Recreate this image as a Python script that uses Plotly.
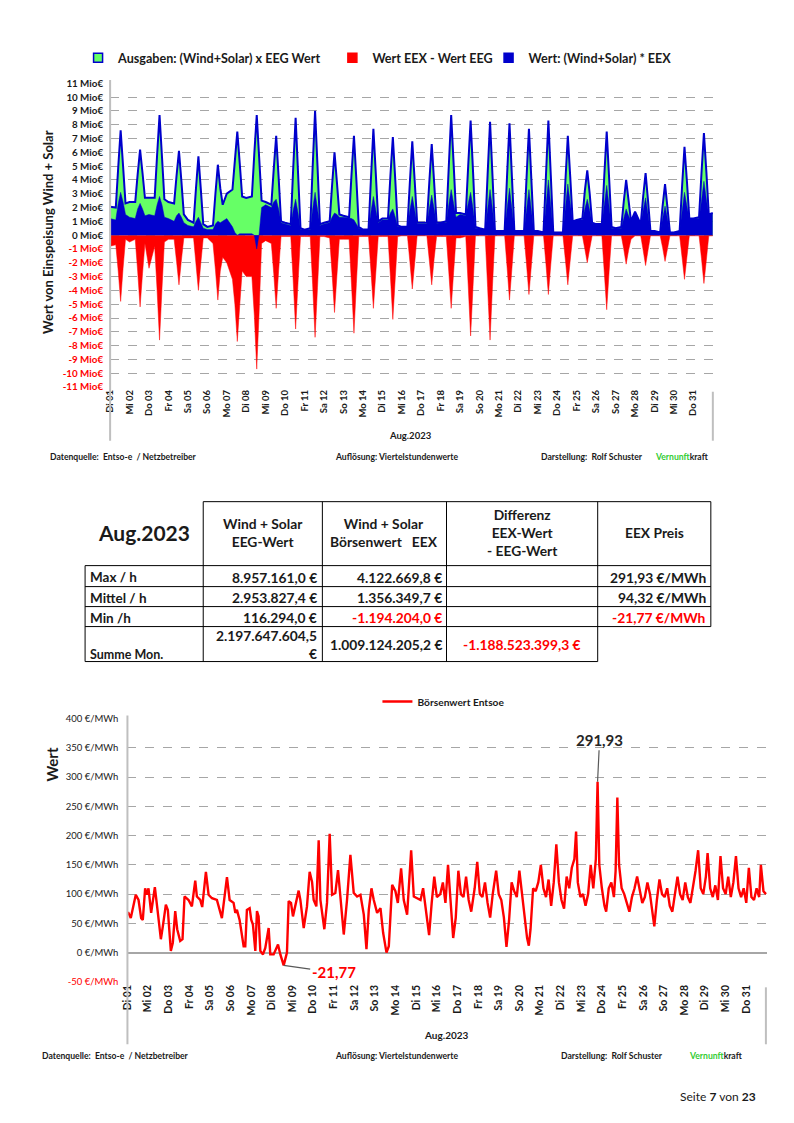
import plotly.graph_objects as go

W, H = 794, 1123
# page-to-figure pixel mapping (compensates the page offset/scale of the screenshot)
def F(p): return (p - 15) / 0.99
def X(p): return F(p) / W
def Y(p): return 1 - F(p) / H

FONT = "Lato"
DARK = "#1a1a1a"
RED = "#ff0000"

day_labels = ["Di 01", "Mi 02", "Do 03", "Fr 04", "Sa 05", "So 06", "Mo 07", "Di 08", "Mi 09", "Do 10",
              "Fr 11", "Sa 12", "So 13", "Mo 14", "Di 15", "Mi 16", "Do 17", "Fr 18", "Sa 19", "So 20",
              "Mo 21", "Di 22", "Mi 23", "Do 24", "Fr 25", "Sa 26", "So 27", "Mo 28", "Di 29", "Mi 30", "Do 31"]
sample_hours = [0, 7, 10, 13, 16, 19]   # sampling hours within each day

# Top chart values (Mio EUR), one row per day at 0h, 7h, 10h, 13h, 16h, 19h
eeg_value = [
    2.05, 2.0, 4.9, 7.6, 5.0, 2.3,
    2.4, 2.4, 4.4, 6.2, 4.5, 2.7,
    2.7, 2.7, 5.8, 8.7, 5.7, 2.6,
    2.4, 2.3, 4.3, 6.1, 3.9, 1.5,
    1.1, 0.9, 3.4, 5.7, 3.3, 0.8,
    0.6, 0.7, 3.0, 5.1, 3.4, 2.2,
    3.0, 3.3, 5.4, 7.5, 5.2, 2.8,
    2.7, 2.8, 5.9, 8.7, 5.6, 2.5,
    2.4, 2.2, 4.8, 7.2, 4.2, 1.0,
    0.9, 0.8, 4.8, 8.5, 4.5, 0.5,
    0.4, 0.5, 4.9, 9.0, 5.0, 0.8,
    0.9, 1.0, 3.6, 6.0, 3.8, 1.5,
    1.4, 1.3, 4.4, 7.2, 4.0, 0.6,
    0.4, 0.4, 4.1, 7.7, 4.4, 1.0,
    1.2, 1.2, 4.3, 7.1, 4.0, 0.7,
    0.6, 0.6, 3.8, 6.8, 3.9, 0.9,
    0.9, 0.9, 3.8, 6.6, 3.8, 0.9,
    0.9, 1.0, 4.9, 8.7, 5.2, 1.6,
    1.6, 1.5, 5.0, 8.3, 4.6, 0.6,
    0.5, 0.4, 4.4, 8.2, 4.3, 0.3,
    0.3, 0.3, 4.3, 8.1, 4.2, 0.3,
    0.3, 0.3, 4.1, 7.7, 4.0, 0.3,
    0.3, 0.2, 4.3, 8.3, 4.3, 0.2,
    0.2, 0.2, 3.9, 7.2, 4.2, 1.0,
    1.1, 1.2, 3.2, 4.7, 3.0, 0.9,
    0.8, 0.8, 4.3, 7.5, 4.1, 0.6,
    0.5, 0.6, 2.4, 4.0, 2.5, 1.0,
    1.7, 0.8, 2.8, 4.5, 2.5, 0.3,
    0.3, 0.2, 2.1, 3.7, 2.0, 0.2,
    0.2, 0.3, 3.5, 6.4, 3.9, 1.2,
    1.2, 1.3, 4.5, 7.4, 4.6, 1.5,
    1.6]
eex_value = [
    1.2, 1.1, 2.3, 3.1, 2.4, 1.5,
    1.3, 1.2, 1.9, 2.3, 1.9, 1.4,
    1.5, 1.4, 2.2, 2.8, 2.2, 1.3,
    1.2, 1.0, 1.4, 1.6, 1.3, 0.9,
    0.7, 0.6, 1.0, 1.3, 0.9, 0.5,
    0.4, 0.4, 0.8, 1.0, 0.9, 1.0,
    1.2, 0.6, 0.2, 0.0, 0.1, 0.1,
    0.1, 0.1, 0.0, -1.0, 0.1, 2.0,
    2.2, 2.0, 2.4, 2.6, 1.9, 0.9,
    0.8, 0.7, 1.8, 2.6, 1.6, 0.4,
    0.4, 0.4, 1.9, 3.1, 1.9, 0.7,
    0.8, 0.9, 1.3, 1.6, 1.5, 1.3,
    1.3, 1.2, 1.2, 1.1, 0.8, 0.5,
    0.4, 0.4, 1.7, 2.8, 1.8, 0.9,
    1.1, 1.1, 1.6, 1.9, 1.3, 0.6,
    0.6, 0.6, 1.8, 2.8, 1.8, 0.8,
    0.8, 0.8, 1.9, 2.9, 1.9, 0.8,
    0.9, 0.9, 2.2, 3.3, 2.3, 1.3,
    1.5, 1.4, 2.3, 3.1, 1.9, 0.5,
    0.5, 0.4, 1.9, 3.3, 1.9, 0.3,
    0.3, 0.3, 1.9, 3.4, 1.9, 0.3,
    0.3, 0.3, 1.8, 3.3, 1.8, 0.3,
    0.3, 0.2, 2.1, 4.0, 2.1, 0.2,
    0.2, 0.2, 2.0, 3.7, 2.3, 1.0,
    1.1, 1.1, 1.9, 2.6, 1.8, 0.8,
    0.8, 0.8, 2.2, 3.6, 2.1, 0.5,
    0.5, 0.5, 1.2, 1.9, 1.4, 1.0,
    1.6, 0.8, 1.8, 2.7, 1.5, 0.3,
    0.3, 0.2, 1.2, 2.1, 1.2, 0.2,
    0.2, 0.3, 1.7, 3.1, 2.1, 1.2,
    1.2, 1.2, 2.5, 3.9, 2.6, 1.5,
    1.6]
diff_value = [
    -0.8, -0.7, -2.6, -4.8, -2.4, -0.3,
    -0.5, -0.3, -2.6, -5.2, -2.8, -0.6,
    -2.4, -0.8, -4.0, -7.6, -3.9, -0.5,
    -0.3, -0.3, -1.9, -3.6, -1.8, -0.2,
    -0.2, -0.2, -2.1, -4.0, -2.0, -0.2,
    -0.2, -0.6, -2.5, -4.7, -2.6, -1.6,
    -2.0, -3.2, -5.0, -7.7, -5.1, -2.6,
    -3.0, -3.0, -5.8, -9.7, -5.5, -0.6,
    -0.4, -0.6, -2.8, -5.3, -2.6, -0.1,
    -0.1, -0.1, -3.3, -6.8, -3.4, -0.1,
    -0.1, -0.1, -3.6, -7.4, -3.8, -0.1,
    -0.1, -0.2, -2.8, -5.6, -2.9, -0.3,
    -0.3, -0.3, -3.6, -7.1, -3.5, -0.1,
    -0.1, -0.1, -2.6, -5.3, -2.7, -0.1,
    -0.1, -0.1, -3.0, -6.1, -3.1, -0.1,
    -0.05, -0.05, -1.9, -3.9, -2.0, -0.05,
    -0.05, -0.05, -1.8, -3.6, -1.7, -0.1,
    -0.1, -0.1, -2.6, -5.3, -2.7, -0.2,
    -0.2, -0.1, -3.6, -7.3, -3.7, -0.05,
    -0.05, -0.05, -3.8, -7.6, -3.7, -0.05,
    -0.05, -0.05, -2.3, -4.7, -2.4, -0.05,
    -0.05, -0.05, -2.1, -4.3, -2.2, -0.05,
    -0.05, -0.05, -2.1, -4.3, -2.1, -0.05,
    -0.05, -0.05, -1.8, -3.6, -1.8, -0.05,
    -0.05, -0.05, -1.0, -2.0, -1.0, -0.05,
    -0.05, -0.05, -2.7, -5.4, -2.6, -0.05,
    -0.05, -0.05, -1.0, -2.1, -1.1, -0.3,
    -0.05, -0.05, -1.1, -2.2, -1.1, -0.05,
    -0.05, -0.05, -0.9, -1.9, -1.0, -0.05,
    -0.05, -0.05, -1.6, -3.2, -1.6, -0.05,
    -0.05, -0.05, -1.7, -3.5, -1.8, -0.05,
    -0.05]

# Bottom chart: EEX price (EUR/MWh) at hours since 01.08. 00:00
price_hours = [0, 1.2, 3.9, 7.8, 9.7, 12.9, 16.0, 17.9, 20.6, 22.6, 24.5, 27.6, 31.9, 35.0, 38.9, 41.2, 44.7, 47.0,
               50.5, 52.8, 55.6, 57.9, 61.4, 64.1, 66.4, 71.1, 75.0, 78.9, 80.8, 84.7, 87.0, 91.3, 94.4, 98.3,
               104.1, 109.9, 115.8, 118.9, 123.5, 125.5, 127.4, 130.5, 133.2, 135.2, 137.1, 139.0, 142.2, 144.1,
               146.0, 148.8, 150.7, 152.6, 154.6, 157.7, 160.4, 164.3, 166.2, 170.1, 175.2, 177.9, 181.8, 185.6,
               187.6, 190.3, 192.6, 195.3, 199.2, 201.2, 205.1, 208.9, 212.0, 214.8, 216.7, 219.8, 222.5, 224.5,
               226.4, 229.1, 232.2, 235.3, 238.1, 241.9, 245.0, 247.8, 251.7, 255.5, 259.4, 263.3, 267.2, 271.1,
               275.0, 278.1, 280.8, 283.9, 286.6, 290.5, 294.4, 297.5, 301.4, 304.1, 308.0, 311.8, 314.6, 318.4,
               321.5, 325.4, 330.1, 333.2, 341, 344, 347, 351, 354, 357, 360, 364, 367, 370, 373, 376, 379, 382,
               385, 388, 391, 394, 397, 400, 404, 407, 410, 413, 416, 419, 422, 425, 429, 432, 435, 438, 441, 444,
               447, 450, 453, 456, 459, 462, 465, 467, 469, 472, 475, 478, 481, 484, 487, 490, 493, 496, 499, 502,
               505, 508, 511, 514, 517, 520, 522, 524, 527, 530, 533, 536, 539, 542, 545, 547, 549, 552, 555, 557,
               560, 563, 566, 568, 570, 572, 575, 578, 581, 584, 587, 590, 593, 596, 599, 602, 605, 608, 611, 613,
               616, 619, 622, 625, 628, 631, 634, 637, 640, 643, 646, 649, 652, 655, 658, 661, 664, 667, 670, 673,
               675, 678, 681, 684, 687, 690, 693, 696, 699, 702, 705, 708, 711, 714, 717, 720, 723, 726, 729, 732,
               735, 737, 740, 743]
price_values = [68, 68, 59, 90, 99, 90, 59, 56, 110, 99, 110, 68, 112, 73, 23, 45, 82, 73,
                3, 17, 71, 40, 20, 23, 96, 90, 79, 123, 96, 90, 78, 138, 99, 93,
                90, 59, 129, 90, 85, 68, 73, 56, 34, 11, 11, 73, 76, 56,
                48, 3, 71, 62, 3, -3, 8, 42, -3, -3, 14, -3, -21.77, 0,
                88, 85, 62, 79, 106, 90, 42, 79, 138, 121, 90, 79, 192, 90,
                68, 40, 85, 203, 99, 102, 141, 99, 31, 90, 167, 102, 96, 99,
                65, 6, 73, 110, 90, 68, 76, 34, 0, 11, 116, 105, 85, 144,
                90, 65, 175, 96, 90, 110, 75, 30, 85, 130, 95, 100, 120, 85, 150, 95, 25, 60,
                140, 100, 95, 130, 90, 70, 110, 155, 100, 95, 120, 85, 60, 100, 140, 100, 90, 60, 10, 55,
                120, 105, 95, 140, 100, 60, 25, 12, 40, 110, 105, 120, 150, 110, 95, 125, 80, 120, 185, 120,
                90, 75, 130, 110, 145, 160, 207, 120, 95, 100, 80, 100, 150, 110, 160, 291.93, 150, 110, 80, 70,
                110, 120, 95, 140, 265, 150, 110, 100, 85, 70, 95, 110, 130, 110, 85, 95, 120, 100, 70, 45,
                90, 125, 100, 95, 110, 80, 70, 105, 130, 100, 90, 120, 95, 85, 110, 140, 175, 110, 100, 130,
                170, 110, 95, 115, 90, 165, 110, 100, 130, 95, 120, 165, 110, 95, 110, 85, 145, 95, 90, 110,
                95, 150, 105, 100]

top_ticks = list(range(-11, 12))
price_ticks = list(range(-50, 401, 50))

# Table content
table_headers = ["Wind + Solar<br>EEG-Wert", "Wind + Solar<br>Börsenwert   EEX",
                 "Differenz<br>EEX-Wert<br>- EEG-Wert", "EEX Preis"]
table_rows = ["Max / h", "Mittel / h", "Min /h", "Summe Mon."]
col_eeg = ["8.957.161,0 €", "2.953.827,4 €", "116.294,0 €", "2.197.647.604,5<br>€"]
col_eex = ["4.122.669,8 €", "1.356.349,7 €", "-1.194.204,0 €", "1.009.124.205,2 €"]
col_diff = ["", "", "", "-1.188.523.399,3 €"]
col_price = ["291,93 €/MWh", "94,32 €/MWh", "-21,77 €/MWh", ""]

# ------------------------------------------------------------------
x_top = [24 * d + h for d in range(31) for h in sample_hours] + [744]
day_starts = [24 * d for d in range(31)]

fig = go.Figure()

fig.add_trace(go.Scatter(x=x_top, y=eeg_value, mode="lines", fill="tozeroy",
                         fillcolor="#66ff66", line=dict(color="#0000cc", width=2),
                         showlegend=False, xaxis="x", yaxis="y"))
fig.add_trace(go.Scatter(x=x_top, y=diff_value, mode="lines", fill="tozeroy",
                         fillcolor=RED, line=dict(color=RED, width=0.5),
                         showlegend=False, xaxis="x", yaxis="y"))
fig.add_trace(go.Scatter(x=x_top, y=eex_value, mode="lines", fill="tozeroy",
                         fillcolor="#0000cc", line=dict(color="#0000cc", width=0.5),
                         showlegend=False, xaxis="x", yaxis="y"))

# legend entries (top chart), one legend box per entry for exact placement
legend_items = [("Ausgaben: (Wind+Solar) x EEG Wert", "#66ff66", "#0000cc", "legend", 78),
                ("Wert EEX - Wert EEG", RED, RED, "legend3", 332),
                ("Wert: (Wind+Solar) * EEX", "#0000cc", "#0000cc", "legend4", 488)]
for name, col, lc, lg, _ in legend_items:
    fig.add_trace(go.Scatter(x=[None], y=[None], mode="markers", name=name,
                             marker=dict(symbol="square", size=9, color=col, line=dict(color=lc, width=1.5)),
                             legend=lg, xaxis="x", yaxis="y"))

fig.add_trace(go.Scatter(x=price_hours, y=price_values, mode="lines",
                         line=dict(color=RED, width=2.4), name="Börsenwert Entsoe",
                         legend="legend2", xaxis="x2", yaxis="y2"))

def red_if_neg(v, txt):
    return f'<span style="color:{RED}">{txt}</span>' if v < 0 else txt

top_ticktext = ["<b>" + red_if_neg(v, f"{v} Mio€") + "</b>" for v in top_ticks]
price_ticktext = [red_if_neg(v, f"{v} €/MWh") for v in price_ticks]

grid = dict(showgrid=True, gridcolor="#a6a6a6", griddash="dash", gridwidth=1)

def leg(xl, yc, size):
    return dict(orientation="h", x=X(xl), xanchor="left", y=Y(yc), yanchor="middle",
                font=dict(size=size, family=FONT, color=DARK, weight="bold"), itemwidth=30,
                bgcolor="rgba(0,0,0,0)")

fig.update_layout(
    width=W, height=H, margin=dict(l=0, r=0, t=0, b=0),
    paper_bgcolor="white", plot_bgcolor="white",
    font=dict(family=FONT, color=DARK),
    xaxis=dict(domain=[X(110), X(712)], anchor="y", range=[0, 744],
               tickvals=day_starts, ticktext=["<b>" + t + "</b>" for t in day_labels],
               tickangle=-90, tickfont=dict(size=9.5, color=DARK), showgrid=False,
               zeroline=False, showline=False, ticks=""),
    yaxis=dict(domain=[Y(387.3), Y(83.3)], anchor="x", range=[-11, 11],
               tickvals=top_ticks, ticktext=top_ticktext, tickfont=dict(size=9.8, color=DARK),
               zeroline=False, showline=False, ticks="", ticklabelstandoff=6, **grid),
    xaxis2=dict(domain=[X(127.3), X(766)], anchor="y2", range=[0, 744],
                tickvals=day_starts, ticktext=["<b>" + t + "</b>" for t in day_labels],
                tickangle=-90, tickfont=dict(size=10.5, color=DARK), showgrid=False,
                zeroline=False, showline=False, ticks=""),
    yaxis2=dict(domain=[Y(982.6), Y(719)], anchor="x2", range=[-50, 400],
                tickvals=price_ticks, ticktext=price_ticktext, tickfont=dict(size=9.5, color=DARK),
                zeroline=True, zerolinecolor="#a6a6a6", zerolinewidth=1.5,
                showline=False, ticks="", ticklabelstandoff=8, **grid),
    legend=leg(legend_items[0][4], 58, 12.6),
    legend3=leg(legend_items[1][4], 58, 12.6),
    legend4=leg(legend_items[2][4], 58, 12.6),
    legend2=leg(377, 702, 10.2),
)

shapes = []
def hline(x0, x1, y, color="black", w=1):
    shapes.append(dict(type="line", xref="paper", yref="paper", x0=X(x0), x1=X(x1), y0=Y(y), y1=Y(y),
                       line=dict(color=color, width=w)))
def vline(x, y0, y1, color="black", w=1):
    shapes.append(dict(type="line", xref="paper", yref="paper", x0=X(x), x1=X(x), y0=Y(y0), y1=Y(y1),
                       line=dict(color=color, width=w)))

# axis / category divider lines
vline(110, 80, 441, "#bfbfbf", 2)
vline(712, 392, 441, "#bfbfbf", 2)
vline(127.3, 716, 1045, "#bfbfbf", 2)
vline(765, 988, 1045, "#bfbfbf", 2)

# table grid
cx = [85, 203, 322, 446, 597, 710]
ry = [502, 566, 587, 607, 627, 662]
hline(203, 710, ry[0])
for yy in ry[1:5]:
    hline(85, 710, yy)
hline(85, 597, ry[5])
vline(85, ry[1], ry[5])
for xx in cx[1:5]:
    vline(xx, ry[0], ry[5])
vline(710, ry[0], ry[4])

anns = []
def text(x, y, t, size=9, xanchor="left", yanchor="middle", color=DARK, bold=True, align="left", angle=0):
    anns.append(dict(xref="paper", yref="paper", x=X(x), y=Y(y), text=(f"<b>{t}</b>" if bold else t),
                     showarrow=False, xanchor=xanchor, yanchor=yanchor, align=align, textangle=angle,
                     font=dict(family=FONT, size=size, color=color)))

# top chart texts
text(48, 232, "Wert von Einspeisung Wind + Solar", size=13, xanchor="center", angle=-90)
text(410, 436, "Aug.2023", size=9.5, xanchor="center")
vk = '<span style="color:#33cc33">Vernunft</span>kraft'
for yy, xs in [(457, (48, 333, 538, 652)), (1057, (40, 333, 558, 686))]:
    text(xs[0], yy, "Datenquelle:  Entso-e  / Netzbetreiber", size=8.6)
    text(xs[1], yy, "Auflösung: Viertelstundenwerte", size=8.6)
    text(xs[2], yy, "Darstellung:  Rolf Schuster", size=8.6)
    text(xs[3], yy, vk, size=8.6)

# bottom chart texts
text(52, 765, "Wert", size=15, xanchor="center", angle=-90)
text(446, 1036, "Aug.2023", size=10, xanchor="center")

# table texts
text(144, 533, "Aug.2023", size=21, xanchor="center")
for i, h in enumerate(table_headers):
    text((cx[i + 1] + cx[i + 2]) / 2, 533, h, size=13.8, xanchor="center", align="center")
for r in range(3):
    yc = (ry[r + 1] + ry[r + 2]) / 2
    text(88, yc + 1, table_rows[r], size=13.5)
    for c, col in enumerate([col_eeg, col_eex, col_diff, col_price]):
        if col[r]:
            clr = RED if col[r].startswith("-") else DARK
            text(cx[c + 2] - 3, yc + 1, col[r], size=13.8, xanchor="right", color=clr)
text(88, 655, table_rows[3], size=12.5)
text(cx[2] - 3, 645, col_eeg[3], size=13.8, xanchor="right", align="right")
text(cx[3] - 3, 645, col_eex[3], size=13.8, xanchor="right")
text((cx[3] + cx[4]) / 2, 645, col_diff[3], size=13.8, xanchor="center", color=RED)

# page footer
text(757, 1097, "Seite <b>7</b> von <b>23</b>", size=12, xanchor="right", bold=False)

# value callouts
i_max = price_values.index(max(price_values))
i_min = price_values.index(min(price_values))
anns.append(dict(xref="x2", yref="y2", x=price_hours[i_max], y=price_values[i_max],
                 text="<b>291,93</b>", showarrow=True, arrowhead=0, arrowwidth=1.2, arrowcolor="#595959",
                 ax=2, ay=-42, font=dict(family=FONT, size=15, color="#262626")))
anns.append(dict(xref="x2", yref="y2", x=price_hours[i_min], y=price_values[i_min],
                 text="<b>-21,77</b>", showarrow=True, arrowhead=0, arrowwidth=1.2, arrowcolor="#595959",
                 ax=50, ay=7, font=dict(family=FONT, size=15, color=RED)))

fig.update_layout(shapes=shapes, annotations=anns)
fig.write_html("out.html")
